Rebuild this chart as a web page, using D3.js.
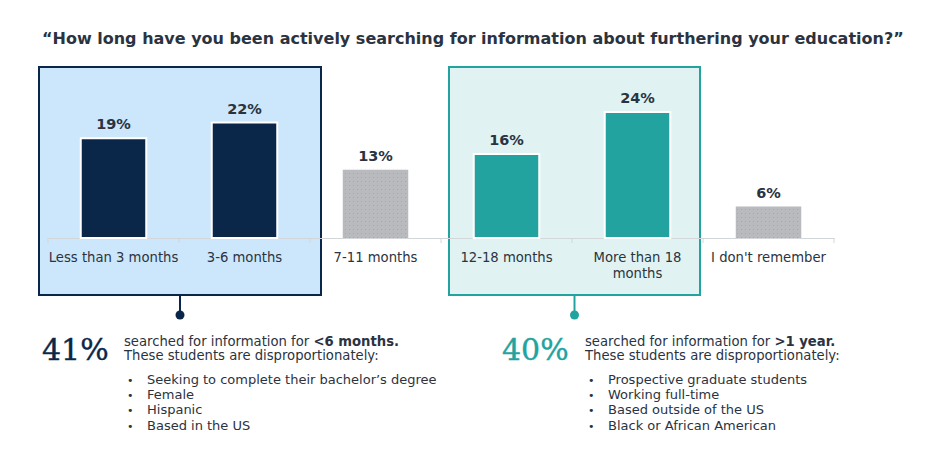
<!DOCTYPE html>
<html>
<head>
<meta charset="utf-8">
<script src="https://cdn.jsdelivr.net/npm/d3@7"></script>
<style>
  body { margin: 0; background: #fff; }
  svg { font-family: "DejaVu Sans", Verdana, sans-serif; }
</style>
</head>
<body>
<svg id="chart" width="940" height="464"></svg>
<script>
const title = '\u201cHow long have you been actively searching for information about furthering your education?\u201d'
const categories = ['Less than 3 months', '3-6 months', '7-11 months', '12-18 months', 'More than 18 months', "I don't remember"]
const values = [19, 22, 13, 16, 24, 6]
const groups = ['short', 'short', 'other', 'long', 'long', 'other']

const summaries = [
  { key: 'short', share: '41%', lead: 'searched for information for ', bold: '<6 months.',
    items: ['Seeking to complete their bachelor\u2019s degree', 'Female', 'Hispanic', 'Based in the US'] },
  { key: 'long', share: '40%', lead: 'searched for information for ', bold: '>1 year.',
    items: ['Prospective graduate students', 'Working full-time', 'Based outside of the US', 'Black or African American'] }
]

const colors = { short: '#0a2749', long: '#22a39f', other: 'url(#dots)' }
const boxFill = { short: '#cce6fb', long: '#e0f3f2' }
const boxPad = { short: [9, 11], long: [-8, -3] }
const textColor = '#2b3340'

const svg = d3.select('#chart')

// dotted fill for the neutral bars
const pat = svg.append('defs').append('pattern')
    .attr('id', 'dots').attr('width', 4).attr('height', 4)
    .attr('patternUnits', 'userSpaceOnUse')
pat.append('rect').attr('width', 4).attr('height', 4).attr('fill', '#b8babd')
pat.append('rect').attr('x', 1).attr('y', 1).attr('width', 1).attr('height', 1).attr('fill', '#a6a8ab')

const x = d3.scaleBand().domain(categories).range([48, 834]).paddingInner(0.5).paddingOuter(0.25)
const y = d3.scaleLinear().domain([0, 24]).range([238, 112])
const step = x.step()

svg.append('text')
    .attr('x', 42).attr('y', 44)
    .attr('font-size', 16).attr('font-weight', 'bold')
    .attr('fill', textColor)
    .text(title)

// highlight boxes behind the bars
summaries.forEach(s => {
    const cats = categories.filter((c, i) => groups[i] === s.key)
    const x0 = x(cats[0]) - x.paddingOuter() * step - boxPad[s.key][0]
    const x1 = x(cats[cats.length - 1]) + x.bandwidth() + x.paddingOuter() * step + boxPad[s.key][1]
    s.cx = (x0 + x1) / 2
    svg.append('rect')
        .attr('x', x0).attr('y', 67)
        .attr('width', x1 - x0).attr('height', 228)
        .attr('fill', boxFill[s.key])
        .attr('stroke', colors[s.key]).attr('stroke-width', 2)
})

// axis
const axis = svg.append('g')
    .attr('transform', 'translate(0,' + y(0) + ')')
    .call(d3.axisBottom(x).tickSize(0).tickPadding(15))
axis.select('.domain').attr('stroke', '#d3d6d9')
axis.selectAll('.tick text')
    .attr('font-size', 13.2).attr('fill', textColor)
    .attr('font-family', '"DejaVu Sans", Verdana, sans-serif')
    .call(wrap, 18)

const bounds = d3.range(categories.length + 1).map(i => 48 + i * step)
svg.selectAll('.sep').data(bounds).enter().append('line')
    .attr('x1', d => d).attr('x2', d => d)
    .attr('y1', y(0)).attr('y2', y(0) + 5)
    .attr('stroke', '#d3d6d9')

svg.selectAll('.bar').data(values).enter().append('rect')
    .attr('x', (d, i) => x(categories[i]))
    .attr('y', d => y(d))
    .attr('width', x.bandwidth())
    .attr('height', d => y(0) - y(d))
    .attr('fill', (d, i) => colors[groups[i]])
    .attr('stroke', (d, i) => groups[i] === 'other' ? 'none' : '#fff')
    .attr('stroke-width', 2)

svg.selectAll('.val').data(values).enter().append('text')
    .attr('x', (d, i) => x(categories[i]) + x.bandwidth() / 2)
    .attr('y', d => y(d) - 9)
    .attr('text-anchor', 'middle')
    .attr('font-size', 14.5).attr('font-weight', 'bold')
    .attr('fill', textColor)
    .text(d => d + '%')

// call-outs under each box
summaries.forEach((s, k) => {
    const col = colors[s.key]
    const left = k === 0 ? 42 : 502
    const tx = k === 0 ? 124 : 585
    svg.append('line')
        .attr('x1', s.cx).attr('x2', s.cx).attr('y1', 296).attr('y2', 315)
        .attr('stroke', col).attr('stroke-width', 2)
    svg.append('circle').attr('cx', s.cx).attr('cy', 315).attr('r', 4.5).attr('fill', col)

    svg.append('text')
        .attr('x', left).attr('y', 360)
        .attr('font-family', '"DejaVu Serif", Georgia, serif')
        .attr('font-size', 30).attr('fill', col)
        .attr('stroke', col).attr('stroke-width', 0.4)
        .text(s.share)

    const t = svg.append('text').attr('x', tx).attr('y', 346)
        .attr('font-size', 13.2).attr('fill', textColor)
    t.append('tspan').text(s.lead)
    t.append('tspan').attr('font-weight', 'bold').text(s.bold)
    svg.append('text').attr('x', tx).attr('y', 360)
        .attr('font-size', 13.2).attr('fill', textColor)
        .text('These students are disproportionately:')

    const rows = [384, 399, 414, 430]
    s.items.forEach((item, j) => {
        svg.append('text').attr('x', tx + 3).attr('y', rows[j])
            .attr('font-size', 11).attr('fill', textColor).text('\u2022')
        svg.append('text').attr('x', tx + 23).attr('y', rows[j])
            .attr('font-size', 13).attr('fill', textColor).text(item)
    })
})

// break long labels after maxChars characters, at a space
function wrap(texts, maxChars) {
    texts.each(function() {
        const text = d3.select(this)
        const words = text.text().split(/\s+/)
        const yy = text.attr('y')
        const dy = parseFloat(text.attr('dy'))
        const lines = [[]]
        words.forEach(w => {
            const cur = lines[lines.length - 1]
            if (cur.length && (cur.join(' ') + ' ' + w).length > maxChars) lines.push([w])
            else cur.push(w)
        })
        text.text(null)
        lines.forEach((l, i) => {
            text.append('tspan').attr('x', 0).attr('y', yy)
                .attr('dy', (i * 1.15 + dy) + 'em').text(l.join(' '))
        })
    })
}
</script>
</body>
</html>
